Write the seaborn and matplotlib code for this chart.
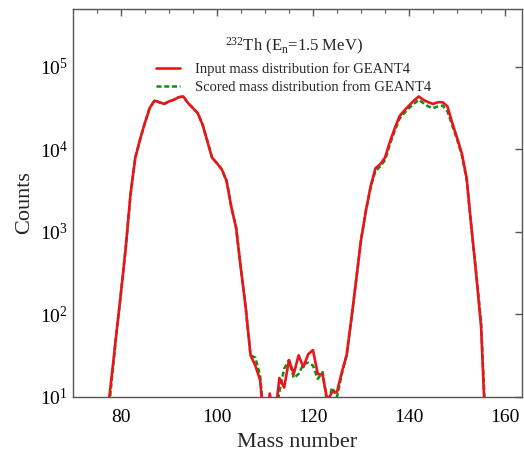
import matplotlib
matplotlib.use('Agg')
import matplotlib.pyplot as plt
import seaborn as sns
from matplotlib.ticker import MultipleLocator, LogLocator, NullLocator

# Fission fragment mass distribution
mass = list(range(77, 157))

counts_input = [
    5, 16, 54, 178, 630, 2800, 7900, 13200, 20900, 31600,            # 77-86
    38900, 37200, 35500, 38000, 39800, 42700, 43700, 36300, 31600, 27500,  # 87-96
    20000, 12600, 7900, 6800, 5750, 4170, 2000, 1120, 355, 120,      # 97-106
    32, 24, 16, 3.4, 11, 5, 17, 13, 28, 19,                          # 107-116
    32, 23, 33, 37, 19, 18.6, 9, 11.5, 11.5, 20,                     # 117-126
    32, 89, 263, 794, 1780, 3550, 5890, 6600, 7940, 12300,           # 127-136
    17800, 25100, 29500, 33900, 38900, 43700, 39800, 37200, 35500, 37200,  # 137-146
    37200, 33100, 20900, 13800, 8900, 4470, 1120, 302, 71, 3,        # 147-156
]

counts_scored = [
    3.5, 14, 54, 178, 630, 2800, 7900, 13200, 20900, 31600,
    38900, 37200, 35500, 38000, 39800, 42700, 43700, 36300, 31600, 27500,
    20000, 12600, 7900, 6800, 5750, 4170, 2000, 1120, 355, 120,
    32, 30, 18, 4, 6, 5, 11.5, 22, 28, 17,
    19, 25, 26, 24, 16.6, 20, 8, 13, 10, 19,
    32, 89, 263, 794, 1780, 3450, 5500, 6200, 7400, 11500,
    16600, 23400, 27500, 31600, 35500, 39800, 36300, 33100, 31600, 33100,
    33900, 28800, 19500, 13200, 8500, 4270, 1100, 309, 80, 4,
]

label_input = 'Input mass distribution for GEANT4'
label_scored = 'Scored mass distribution from GEANT4'

sns.set_style('white')
plt.rcParams['font.family'] = ['Liberation Serif', 'DejaVu Serif']
plt.rcParams['mathtext.fontset'] = 'custom'
plt.rcParams['mathtext.rm'] = 'Liberation Serif'
plt.rcParams['mathtext.it'] = 'Liberation Serif:italic'
plt.rcParams['mathtext.bf'] = 'Liberation Serif:bold'

fig, ax = plt.subplots(figsize=(5.24, 4.55), dpi=100)
fig.subplots_adjust(left=0.139, right=0.996, top=0.980, bottom=0.1275)

sns.lineplot(x=mass, y=counts_scored, ax=ax, color='#128c12', lw=1.8,
             linestyle=(0, (2.0, 1.1)), label=label_scored, zorder=2)
sns.lineplot(x=mass, y=counts_input, ax=ax, color='#e8161a', lw=1.9,
             label=label_input, zorder=3)

ax.set_yscale('log')
ax.set_xlim(70, 163.5)
ax.set_ylim(10, 5e5)

ax.xaxis.set_major_locator(MultipleLocator(20))
ax.xaxis.set_minor_locator(MultipleLocator(5))
ax.yaxis.set_major_locator(LogLocator(base=10, numticks=10))
ax.yaxis.set_minor_locator(NullLocator())

for s in ax.spines.values():
    s.set_color('#555555')
    s.set_linewidth(1.0)
ax.tick_params(which='both', direction='in', top=True, right=True, colors='#555555',
               labelcolor='black', labelsize=14)
ax.tick_params(which='major', length=5, width=1)
ax.tick_params(which='minor', length=3, width=0.8)
ax.tick_params(axis='x', which='major', pad=9)

ax.set_xlabel('Mass number', fontsize=16, labelpad=5)
ax.set_ylabel('Counts', fontsize=16)

handles, labels = ax.get_legend_handles_labels()
order = [labels.index(label_input), labels.index(label_scored)]
leg = ax.legend([handles[i] for i in order], [labels[i] for i in order],
                title=r'$^{232}$Th (E$_{\mathrm{n}}$=1.5 MeV)',
                loc='upper center', bbox_to_anchor=(0.492, 0.965), frameon=False,
                fontsize=10.5, title_fontsize=12, handlelength=1.6,
                handletextpad=1.05, labelspacing=0.35)

fig.savefig('out.png', dpi=100)
